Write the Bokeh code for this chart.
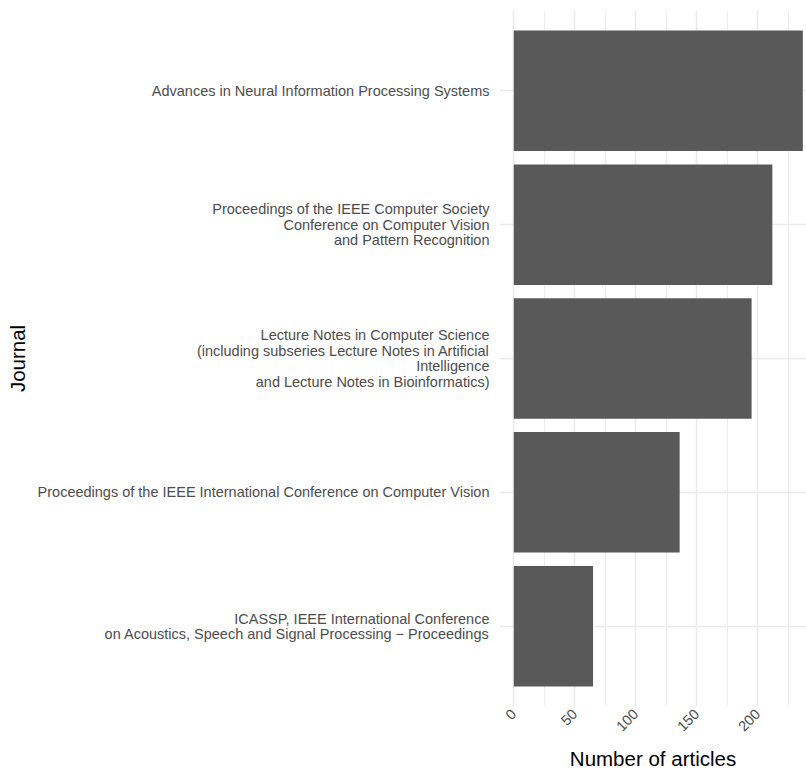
import math
from bokeh.plotting import figure
from bokeh.models import Range1d, FactorRange, SingleIntervalTicker
from bokeh.embed import file_html
from bokeh.resources import INLINE

journals = [
    "Advances in Neural Information Processing Systems",
    "Proceedings of the IEEE Computer Society\nConference on Computer Vision\nand Pattern Recognition",
    "Lecture Notes in Computer Science\n(including subseries Lecture Notes in Artificial\nIntelligence\nand Lecture Notes in Bioinformatics)",
    "Proceedings of the IEEE International Conference on Computer Vision",
    "ICASSP, IEEE International Conference\non Acoustics, Speech and Signal Processing \u2212 Proceedings",
]
articles = [237, 212, 195, 136, 65]

FONT = "Liberation Sans"

p = figure(
    width=806, height=773,
    y_range=FactorRange(factors=list(reversed(journals)), range_padding=0.04),
    x_range=Range1d(-11.7, 240),
    output_backend="svg", toolbar_location=None,
    min_border_left=499, min_border_right=0, min_border_top=10, min_border_bottom=67,
)
p.outline_line_color = None
p.background_fill_color = "white"
p.border_fill_color = "white"

p.hbar(y=journals, right=articles, left=0, height=0.9, color="#595959", line_color=None)

p.xaxis.ticker = SingleIntervalTicker(interval=50, num_minor_ticks=2)
p.xgrid.grid_line_color = "#EBEBEB"
p.xgrid.grid_line_width = 1.6
p.xgrid.minor_grid_line_color = "#EBEBEB"
p.xgrid.minor_grid_line_width = 0.9
p.ygrid.grid_line_color = "#EBEBEB"
p.ygrid.grid_line_width = 1.6

for ax in (p.xaxis[0], p.yaxis[0]):
    ax.axis_line_color = None
    ax.major_tick_line_color = None
    ax.minor_tick_line_color = None
    ax.major_tick_out = 0
    ax.major_tick_in = 0
    ax.minor_tick_out = 0
    ax.minor_tick_in = 0
    ax.major_label_text_font = FONT
    ax.major_label_text_font_size = "14.5px"
    ax.major_label_text_color = "#4D4D4D"
    ax.axis_label_text_font = FONT
    ax.axis_label_text_font_size = "20.5px"
    ax.axis_label_text_font_style = "normal"
    ax.axis_label_text_color = "black"

p.xaxis.axis_label = "Number of articles"
p.xaxis.major_label_orientation = math.pi / 4
p.xaxis.major_label_standoff = 5
p.xaxis.axis_label_standoff = 8
p.yaxis.axis_label = "Journal"
p.yaxis.major_label_standoff = 10
p.yaxis.major_label_text_line_height = 0.96
p.yaxis.axis_label_standoff = 6

open("out.html", "w").write(file_html(p, INLINE))
